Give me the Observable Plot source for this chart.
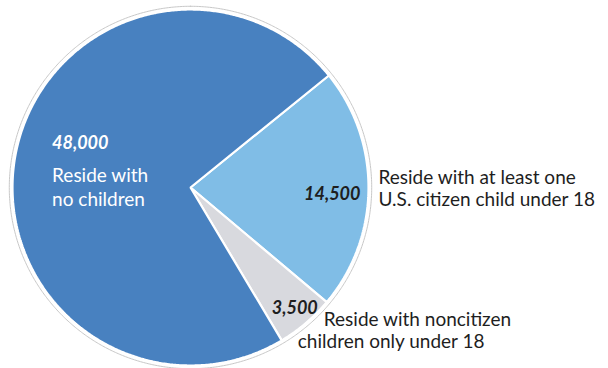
<!DOCTYPE html>
<html><head><meta charset="utf-8">
<script src="https://cdn.jsdelivr.net/npm/d3@7"></script>
<script src="https://cdn.jsdelivr.net/npm/@observablehq/plot@0.6"></script>
<style>html,body{margin:0;padding:0;background:#fff} svg{display:block}</style>
</head><body><div id="chart"></div>
<script>
// ---- data ----
const categories = [
  "Reside with at least one U.S. citizen child under 18",
  "Reside with noncitizen children only under 18",
  "Reside with no children"
];
const values = [14500, 3500, 48000];
const valueLabels = ["14,500", "3,500", "48,000"];
const colors = ["#80bde6", "#d8d9de", "#4881c0"];
const startAngleDeg = 51;

// ---- geometry from the data ----
const total = d3.sum(values);
let acc = startAngleDeg * Math.PI / 180;
const slices = categories.map((c, i) => {
  const a0 = acc, a1 = acc + values[i] / total * 2 * Math.PI;
  acc = a1;
  return {c, i, a0, a1, mid: (a0 + a1) / 2};
});
const pts = [];
for (const s of slices) {
  pts.push({c: s.c, x: 0, y: 0});
  const n = Math.max(2, Math.ceil((s.a1 - s.a0) / (Math.PI / 360)));
  for (let k = 0; k <= n; k++) {
    const a = s.a0 + (s.a1 - s.a0) * k / n;
    pts.push({c: s.c, x: Math.sin(a), y: Math.cos(a)});
  }
}
const ring = d3.range(0, 721).map(k => ({x: 1.018 * Math.sin(k * Math.PI / 360), y: 1.018 * Math.cos(k * Math.PI / 360)}));
const at = (s, r) => ({x: r * Math.sin(s.mid), y: r * Math.cos(s.mid)});

const font = "Lato, 'Open Sans', sans-serif";
const txt = (s, r, label, opts) => Plot.text([at(s, r)], {x: "x", y: "y", text: () => label, fontFamily: font, fontSize: 19, fill: "#1e1e1e", ...opts});

const [sLight, sGrey, sDark] = slices;

const chart = Plot.plot({
  width: 608, height: 368,
  margin: 0,
  x: {domain: [-1, 1], range: [12, 368], axis: null},
  y: {domain: [-1, 1], range: [365, 9], axis: null},
  color: {domain: categories, range: colors},
  marks: [
    Plot.line(ring, {x: "x", y: "y", stroke: "#c8c8c8", strokeWidth: 1, curve: "linear-closed"}),
    Plot.line(pts, {x: "x", y: "y", z: "c", fill: "c", stroke: "white", strokeWidth: 2.2, strokeLinejoin: "miter", curve: "linear-closed"}),
    // dark slice labels
    txt(sDark, 0.75, valueLabels[2], {textAnchor: "start", dx: -7, dy: -21, fill: "white", fontWeight: "bold", fontStyle: "italic", fontSize: 18}),
    txt(sDark, 0.75, "Reside with\nno children", {textAnchor: "start", dx: -7, dy: 22, fill: "white", lineHeight: 1.26}),
    // light slice labels
    txt(sLight, 1, valueLabels[0], {textAnchor: "end", dx: -8, dy: 5, fontWeight: "bold", fontStyle: "italic", fontSize: 18}),
    txt(sLight, 1, "Reside with at least one\nU.S. citizen child under 18", {textAnchor: "start", dx: 10, dy: -1, lineHeight: 1.16}),
    // grey slice labels
    txt(sGrey, 1, valueLabels[1], {textAnchor: "middle", dx: -11, dy: -15, fontWeight: "bold", fontStyle: "italic", fontSize: 18}),
    txt(sGrey, 1, "Reside with noncitizen", {textAnchor: "start", dx: 18, dy: -3}),
    txt(sGrey, 1, "children only under 18", {textAnchor: "start", dx: -8, dy: 19})
  ]
});
document.getElementById("chart").append(chart);
</script>
</body></html>
